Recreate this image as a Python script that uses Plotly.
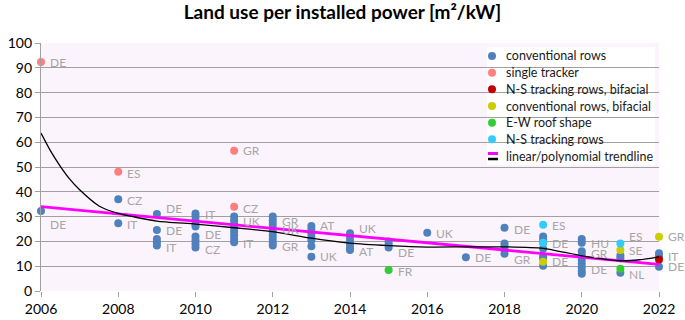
import plotly.graph_objects as go

# ---------------- data ----------------
conv_x = [2006,
          2008, 2008,
          2009, 2009, 2009, 2009, 2009,
          2010, 2010, 2010, 2010, 2010, 2010, 2010, 2010, 2010,
          2011, 2011, 2011, 2011, 2011, 2011, 2011, 2011,
          2012, 2012, 2012, 2012, 2012, 2012, 2012, 2012, 2012,
          2013, 2013, 2013, 2013, 2013, 2013, 2013,
          2014, 2014, 2014, 2014, 2014, 2014,
          2015, 2015, 2015,
          2016,
          2017,
          2018, 2018, 2018, 2018, 2018,
          2019, 2019, 2019, 2019, 2019, 2019, 2019,
          2020, 2020, 2020, 2020, 2020, 2020, 2020, 2020, 2020,
          2021, 2021, 2021,
          2022, 2022, 2022]
conv_y = [32.3,
          37.0, 27.3,
          31.0, 24.6, 21.0, 19.7, 18.3,
          31.3, 30.0, 28.5, 27.0, 26.0, 22.0, 20.5, 19.0, 17.5,
          30.0, 28.5, 27.0, 25.5, 24.0, 22.5, 21.0, 19.7,
          30.0, 28.5, 27.0, 25.5, 24.0, 22.5, 21.0, 19.5, 18.3,
          26.2, 24.8, 23.3, 21.8, 20.5, 18.0, 13.8,
          23.3, 21.8, 20.3, 18.8, 17.3, 16.5,
          20.0, 18.8, 17.5,
          23.5,
          13.6,
          25.5, 19.2, 18.0, 16.5, 15.0,
          22.0, 20.8, 19.5, 17.0, 14.0, 13.0, 10.2,
          21.0, 19.5, 16.0, 14.5, 12.5, 11.0, 9.5, 8.0, 7.0,
          14.3, 13.2, 7.4,
          15.2, 14.0, 9.8]

single_x = [2006, 2008, 2011, 2011]
single_y = [92.3, 48.1, 56.6, 34.0]

ns_bif_x = [2022]
ns_bif_y = [12.7]

conv_bif_x = [2019, 2021, 2022]
conv_bif_y = [11.8, 16.5, 21.9]

ew_x = [2015, 2021]
ew_y = [8.5, 9.0]

ns_x = [2019, 2019, 2021]
ns_y = [26.7, 19.5, 19.2]

lin_x = [2006, 2022]
lin_y = [34.0, 10.7]

poly_x = [2006, 2006.25, 2006.5, 2006.75, 2007, 2007.5, 2008, 2009, 2010, 2011,
          2012, 2013, 2014, 2015, 2016, 2017, 2018, 2019, 2020, 2021, 2021.5, 2022]
poly_y = [63.7, 56.4, 50.3, 45.0, 40.8, 34.3, 31.3, 28.2, 27.0, 25.5,
          23.9, 21.3, 19.3, 18.3, 17.7, 17.8, 17.8, 17.2, 14.2, 12.2, 12.6, 13.8]

lab_x = [2006, 2006, 2008, 2008, 2008, 2009, 2009, 2009, 2010, 2010, 2010,
         2011, 2011, 2011, 2011, 2012, 2012, 2012, 2013, 2013, 2014, 2014,
         2015, 2015, 2016, 2017, 2018, 2018, 2019, 2019, 2019, 2020, 2020, 2020,
         2021, 2021, 2021, 2022, 2022, 2022]
lab_y = [92.3, 27.0, 47.2, 36.3, 27.0, 33.3, 24.3, 17.5, 31.0, 22.6, 16.8,
         56.6, 33.3, 28.2, 19.0, 28.2, 24.6, 18.1, 26.6, 13.8, 25.4, 15.8,
         15.4, 7.8, 23.3, 13.4, 25.0, 12.8, 26.6, 19.2, 11.8, 19.2, 15.2, 8.5,
         21.9, 16.5, 6.7, 21.9, 13.8, 9.8]
lab_text = ["DE", "DE", "ES", "CZ", "IT", "DE", "DE", "IT", "IT", "DE", "CZ",
            "GR", "CZ", "UK", "IT", "GR", "UK", "GR", "AT", "UK", "UK", "AT",
            "DE", "FR", "UK", "DE", "DE", "GR", "ES", "DE", "DE", "HU", "GR", "DE",
            "ES", "SE", "NL", "GR", "IT", "DE"]

x_ticks = [2006, 2008, 2010, 2012, 2014, 2016, 2018, 2020, 2022]
y_ticks = [0, 10, 20, 30, 40, 50, 60, 70, 80, 90, 100]

series_names = ["conventional rows", "single tracker", "N-S tracking rows, bifacial",
                "conventional rows, bifacial", "E-W roof shape", "N-S tracking rows"]
series_colors = ["#4f81bd", "#ff7f7f", "#c00000", "#cccc00", "#33cc33", "#33ccff"]
trend_name = "linear/polynomial trendline"

# ---------------- figure ----------------
FONT = "Lato"
W, H = 685, 320
ML, MR, MT, MB = 41, 26, 43, 29
PW, PH = W - ML - MR, H - MT - MB

def px_x(px):
    return (px - ML) / PW

def px_y(py):
    return (H - MB - py) / PH

fig = go.Figure()

series = [(conv_x, conv_y), (single_x, single_y), (ns_bif_x, ns_bif_y),
          (conv_bif_x, conv_bif_y), (ew_x, ew_y), (ns_x, ns_y)]
for (sx, sy), name, color in zip(series, series_names, series_colors):
    fig.add_trace(go.Scatter(x=sx, y=sy, mode="markers", name=name, showlegend=False,
                             marker=dict(color=color, size=8, line=dict(width=0)),
                             cliponaxis=False))

fig.add_trace(go.Scatter(x=lin_x, y=lin_y, mode="lines", name=trend_name, showlegend=False,
                         line=dict(color="#ff00ff", width=2.8)))
fig.add_trace(go.Scatter(x=poly_x, y=poly_y, mode="lines", showlegend=False,
                         line=dict(color="#000000", width=1.3, shape="spline", smoothing=0.6)))

for x, y, t in zip(lab_x, lab_y, lab_text):
    fig.add_annotation(x=x, y=y, text=t, showarrow=False, xanchor="left", yanchor="middle",
                       xshift=7, font=dict(family=FONT, size=12, color="#a6a6a6"))

# ---------------- hand-built legend (compact like the reference) ----------------
shapes = [dict(type="rect", xref="paper", yref="paper", layer="between",
               x0=px_x(487), x1=px_x(655), y0=px_y(165), y1=px_y(47),
               fillcolor="white", line=dict(width=0))]
row_y = [56 + 16.67 * i for i in range(7)]
mx, tx = 492, 504
for i, (name, color) in enumerate(zip(series_names, series_colors)):
    shapes.append(dict(type="circle", xref="paper", yref="paper", layer="above",
                       xsizemode="pixel", ysizemode="pixel",
                       xanchor=px_x(mx), yanchor=px_y(row_y[i]),
                       x0=-4, x1=4, y0=-4, y1=4, fillcolor=color, line=dict(width=0)))
    fig.add_annotation(xref="paper", yref="paper", x=px_x(tx), y=px_y(row_y[i]), text=name,
                       showarrow=False, xanchor="left", yanchor="middle",
                       font=dict(family=FONT, size=12.5, color="#1a1a1a"))
shapes.append(dict(type="line", xref="paper", yref="paper", layer="above",
                   x0=px_x(488), x1=px_x(498), y0=px_y(row_y[6] - 2.5), y1=px_y(row_y[6] - 2.5),
                   line=dict(color="#ff00ff", width=3)))
shapes.append(dict(type="line", xref="paper", yref="paper", layer="above",
                   x0=px_x(488), x1=px_x(498), y0=px_y(row_y[6] + 3), y1=px_y(row_y[6] + 3),
                   line=dict(color="#000000", width=2.5)))
fig.add_annotation(xref="paper", yref="paper", x=px_x(tx), y=px_y(row_y[6]), text=trend_name,
                   showarrow=False, xanchor="left", yanchor="middle",
                   font=dict(family=FONT, size=12.5, color="#1a1a1a"))

fig.update_layout(
    width=W, height=H,
    margin=dict(l=ML, r=MR, t=MT, b=MB, autoexpand=False),
    paper_bgcolor="white",
    plot_bgcolor="#fcf4fc",
    font=dict(family=FONT, size=14, color="#000000"),
    title=dict(text="<b>Land use per installed power [m²/kW]</b>", x=0.5, xanchor="center",
               y=0.96, yanchor="middle", font=dict(family=FONT, size=19, color="#000000")),
    showlegend=False,
    shapes=shapes,
)
fig.update_xaxes(range=[2006, 2022], tickvals=x_ticks, ticktext=[str(v) for v in x_ticks],
                 automargin=False,
                 showgrid=False, zeroline=False, showline=False,
                 ticks="outside", ticklen=5, tickcolor="#a0a0a0", tickwidth=1.3,
                 tickfont=dict(family=FONT, size=14, color="#000000"))
fig.update_yaxes(range=[0, 100], tickvals=y_ticks, showgrid=True, gridcolor="#a0a0a0",
                 automargin=False,
                 gridwidth=1.3, zeroline=False, showline=True, linecolor="#a0a0a0", linewidth=1.3,
                 ticks="outside", ticklen=5, tickcolor="#a0a0a0", tickwidth=1.3,
                 tickfont=dict(family=FONT, size=14, color="#000000"))

# the page's default 8px body margin would shift the figure; remove it. Hide the mode bar.
fig.write_html("out.html", config=dict(displayModeBar=False),
               post_script="document.body.style.margin='0px';")
